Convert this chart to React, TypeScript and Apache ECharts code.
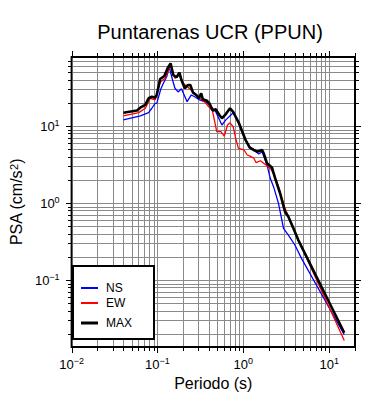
import React, { useEffect, useRef } from "react";
import * as echarts from "echarts";

// ---- data ----
const nsPeriods = [0.04, 0.0633, 0.0788, 0.086, 0.094, 0.0982, 0.1091, 0.1172, 0.128, 0.1374, 0.15, 0.1597, 0.174, 0.1903, 0.2213, 0.2479, 0.2712, 0.31, 0.376, 0.421, 0.477, 0.563, 0.626, 0.762, 0.865, 1.019, 1.188, 1.327, 1.515, 1.653, 1.888, 2.06, 2.25, 2.57, 2.94, 3.35, 3.99, 4.76, 15];
const nsPsa = [12.0, 13.5, 14.9, 17.0, 19.7, 19.7, 30.0, 35.9, 43.6, 57.8, 39.6, 30.9, 27.7, 30.5, 20.7, 25.3, 24.0, 21.8, 20.1, 17.8, 15.3, 10.3, 12.0, 14.9, 11.4, 7.26, 5.39, 4.88, 4.33, 4.64, 3.12, 2.09, 1.63, 0.99, 0.469, 0.384, 0.285, 0.191, 0.0195];

const ewPeriods = [0.04, 0.0605, 0.0722, 0.0824, 0.0941, 0.1074, 0.1226, 0.1374, 0.1422, 0.1597, 0.179, 0.199, 0.227, 0.2712, 0.31, 0.353, 0.396, 0.436, 0.46, 0.49, 0.548, 0.6, 0.655, 0.7, 0.762, 0.815, 0.877, 1.019, 1.112, 1.213, 1.327, 1.41, 1.58, 1.837, 2.1, 2.35, 2.68, 3.06, 3.5, 3.99, 4.56, 15];
const ewPsa = [13.5, 14.9, 17.0, 22.9, 21.8, 37.0, 41.6, 56.2, 62.0, 41.6, 45.9, 35.9, 31.8, 26.6, 22.9, 20.7, 17.8, 15.9, 12.0, 8.43, 8.43, 7.41, 10.3, 11.0, 9.8, 6.92, 5.13, 4.88, 4.2, 4.04, 3.81, 3.34, 3.54, 3.12, 2.75, 2.2, 1.4, 0.853, 0.601, 0.424, 0.3, 0.0164];

const maxPeriods = [0.04, 0.0578, 0.063, 0.072, 0.0788, 0.086, 0.094, 0.098, 0.1074, 0.1203, 0.1313, 0.1422, 0.1527, 0.1667, 0.1804, 0.1903, 0.208, 0.227, 0.2414, 0.2594, 0.283, 0.304, 0.323, 0.338, 0.376, 0.403, 0.44, 0.477, 0.526, 0.563, 0.626, 0.7, 0.762, 0.815, 0.893, 0.974, 1.062, 1.188, 1.327, 1.449, 1.653, 1.73, 1.888, 2.154, 2.35, 2.68, 3.06, 3.35, 3.83, 4.37, 15];
const maxPsa = [14.9, 15.9, 17.3, 18.8, 22.9, 24.0, 23.3, 25.3, 40.7, 44.6, 56.2, 65.2, 45.9, 42.9, 49.2, 39.6, 30.9, 34.1, 34.1, 27.1, 25.3, 22.9, 26.6, 22.2, 21.3, 19.7, 15.9, 16.5, 13.9, 12.6, 14.3, 17.0, 15.3, 13.2, 10.8, 8.43, 6.58, 5.23, 4.88, 4.64, 4.88, 4.42, 3.28, 2.9, 2.09, 1.34, 0.771, 0.664, 0.469, 0.33, 0.0207];

const seriesNames = ["NS", "EW", "MAX"];

// axis ranges and gridline/tick positions
const X_MIN = 0.01;
const X_MAX = 20;
const Y_MIN = 0.0135;
const Y_MAX = 78.7;
const xTickValues = [0.01, 0.02, 0.03, 0.04, 0.05, 0.06, 0.07, 0.08, 0.09, 0.1, 0.2, 0.3, 0.4, 0.5, 0.6, 0.7, 0.8, 0.9, 1, 2, 3, 4, 5, 6, 7, 8, 9, 10, 20];
const yTickValues = [0.02, 0.03, 0.04, 0.05, 0.06, 0.07, 0.08, 0.09, 0.1, 0.2, 0.3, 0.4, 0.5, 0.6, 0.7, 0.8, 0.9, 1, 2, 3, 4, 5, 6, 7, 8, 9, 10, 20, 30, 40, 50, 60, 70];
const majorValues = [0.01, 0.1, 1, 10];

const FONT = '"Liberation Sans", Arial, Helvetica, sans-serif';
const GRID_COLOR = "#8a8a8a";

const zip = (a: number[], b: number[]) => a.map((v, i) => [v, b[i]]);
const isMajor = (v: number) => majorValues.some((d) => Math.abs(d - v) / d < 1e-6);

function powLabel(value: number) {
  const e = Math.log10(value);
  const r = Math.round(e);
  if (Math.abs(e - r) > 1e-6) return "";
  const s = r < 0 ? "\u2212" + -r : String(r);
  return "{b|10}{s|" + s + "}";
}

const labelRich = {
  b: { fontSize: 13, fontFamily: FONT, color: "#000", lineHeight: 16 },
  s: { fontSize: 9, fontFamily: FONT, color: "#000", lineHeight: 10, verticalAlign: "top" as const },
};

export default function App() {
  const ref = useRef<HTMLDivElement>(null);
  useEffect(() => {
    if (!ref.current) return;
    const chart = echarts.init(ref.current, undefined, { renderer: "svg" });
    const colors = ["#0000ff", "#ff0000", "#000000"];
    const widths = [1.3, 1.3, 2.6];
    const lineData = [zip(nsPeriods, nsPsa), zip(ewPeriods, ewPsa), zip(maxPeriods, maxPsa)];
    const legendTops = [282, 297, 317];

    chart.setOption({
      animation: false,
      title: {
        text: "Puntarenas UCR (PPUN)",
        left: 210,
        top: 22,
        textAlign: "center",
        padding: 0,
        textStyle: { fontFamily: FONT, fontSize: 20, fontWeight: "normal", color: "#000" },
      },
      grid: {
        left: 67,
        top: 57,
        right: 35,
        bottom: 53,
        show: true,
        borderColor: "#000",
        borderWidth: 2,
        backgroundColor: "transparent",
      },
      xAxis: {
        type: "log",
        logBase: 10,
        min: X_MIN,
        max: X_MAX,
        axisLine: { show: false },
        axisTick: { show: false },
        splitLine: { show: false },
        axisLabel: { formatter: powLabel, rich: labelRich, margin: 9, showMaxLabel: false, showMinLabel: true },
        name: "Periodo (s)",
        nameLocation: "middle",
        nameGap: 28,
        nameTextStyle: { fontFamily: FONT, fontSize: 16, color: "#000" },
      },
      yAxis: {
        type: "log",
        logBase: 10,
        min: Y_MIN,
        max: Y_MAX,
        axisLine: { show: false },
        axisTick: { show: false },
        splitLine: { show: false },
        axisLabel: { formatter: powLabel, rich: labelRich, margin: 12, showMaxLabel: false, showMinLabel: false },
        name: "PSA (cm/s{s|2})",
        nameLocation: "middle",
        nameGap: 41,
        nameTextStyle: {
          fontFamily: FONT,
          fontSize: 16,
          color: "#000",
          rich: {
            s: { fontSize: 11, fontFamily: FONT, color: "#000", lineHeight: 12, verticalAlign: "top" },
          },
        },
      },
      legend: seriesNames.map((n, i) => ({
        data: [n],
        left: 81,
        top: legendTops[i],
        orient: "vertical",
        icon: "rect",
        itemWidth: 17,
        itemHeight: i === 2 ? 3 : 2,
        padding: 0,
        z: 10,
        selectedMode: false,
        textStyle: { fontFamily: FONT, fontSize: 12, color: "#000", padding: [0, 0, 0, 3] },
      })),
      graphic: [
        {
          type: "rect",
          z: 5,
          shape: { x: 73, y: 266, width: 81, height: 73 },
          style: { fill: "#fff", stroke: "#000", lineWidth: 2 },
        },
      ],
      series: [
        {
          type: "custom",
          name: "xgrid",
          silent: true,
          z: 1,
          data: xTickValues.map((v) => [v, 1]),
          encode: { x: 0, y: 1 },
          renderItem: (params: any, api: any) => {
            const v = api.value(0);
            const pT = api.coord([v, Y_MAX]);
            const pB = api.coord([v, Y_MIN]);
            const x = Math.round(pT[0]) + 0.5;
            const yT = Math.round(pT[1]);
            const yB = Math.round(pB[1]);
            const len = isMajor(v) ? 5 : 3;
            const children: any[] = [];
            if (v > X_MIN * 1.0001 && v < X_MAX * 0.9999) {
              children.push({ type: "line", shape: { x1: x, y1: yT + 1, x2: x, y2: yB - 1 }, style: { stroke: GRID_COLOR, lineWidth: 1 } });
            }
            children.push({ type: "line", shape: { x1: x, y1: yT, x2: x, y2: yT - 1 - len }, style: { stroke: "#000", lineWidth: 1 } });
            children.push({ type: "line", shape: { x1: x, y1: yB, x2: x, y2: yB + 1 + len }, style: { stroke: "#000", lineWidth: 1 } });
            return { type: "group", children };
          },
        },
        {
          type: "custom",
          name: "ygrid",
          silent: true,
          z: 1,
          data: yTickValues.map((v) => [1, v]),
          encode: { x: 0, y: 1 },
          renderItem: (params: any, api: any) => {
            const v = api.value(1);
            const pL = api.coord([X_MIN, v]);
            const pR = api.coord([X_MAX, v]);
            const y = Math.round(pL[1]) + 0.5;
            const xL = Math.round(pL[0]);
            const xR = Math.round(pR[0]);
            const len = isMajor(v) ? 5 : 3;
            return {
              type: "group",
              children: [
                { type: "line", shape: { x1: xL + 1, y1: y, x2: xR - 1, y2: y }, style: { stroke: GRID_COLOR, lineWidth: 1 } },
                { type: "line", shape: { x1: xL, y1: y, x2: xL - 1 - len, y2: y }, style: { stroke: "#000", lineWidth: 1 } },
                { type: "line", shape: { x1: xR, y1: y, x2: xR + 1 + len, y2: y }, style: { stroke: "#000", lineWidth: 1 } },
              ],
            };
          },
        },
        ...seriesNames.map((n, i) => ({
          type: "line",
          name: n,
          data: lineData[i],
          showSymbol: false,
          symbol: "none",
          z: 3,
          lineStyle: { color: colors[i], width: widths[i] },
          itemStyle: { color: colors[i] },
        })),
      ],
    });
    return () => chart.dispose();
  }, []);
  return <div ref={ref} style={{ position: "absolute", left: 0, top: 0, width: 390, height: 400 }} />;
}
